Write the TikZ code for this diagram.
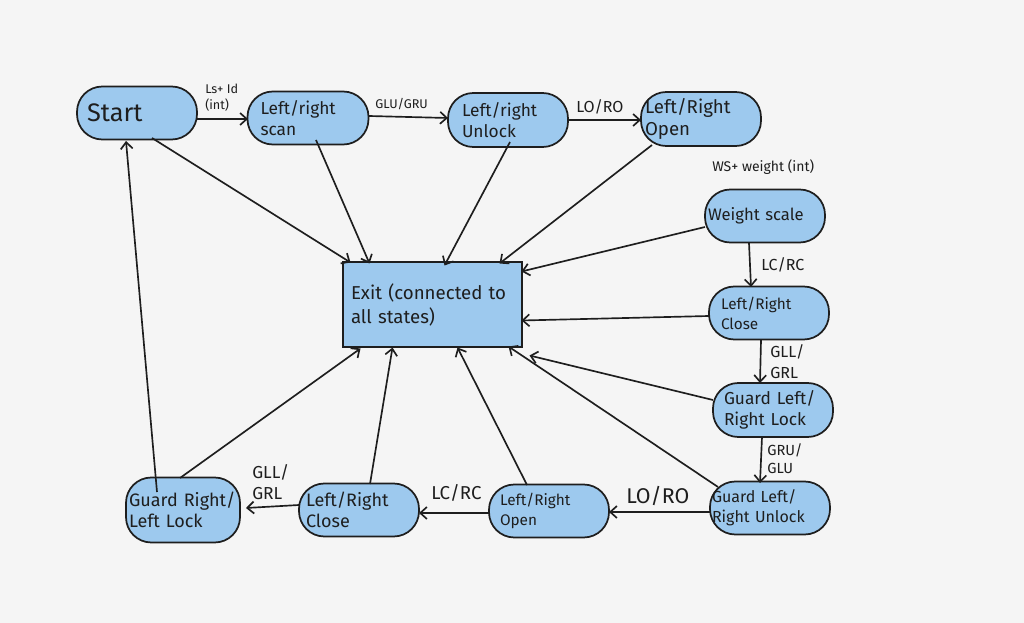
\documentclass[tikz,border=0pt]{standalone}
\usepackage{fontspec}
\setmainfont{Fira Sans}
\usetikzlibrary{arrows.meta}
\definecolor{bg}{RGB}{245,245,245}
\definecolor{nodefill}{RGB}{157,201,238}
\definecolor{ink}{RGB}{30,30,30}
\tikzset{
  state/.style={draw=ink, fill=nodefill, line width=1.3pt, rounded corners=19pt,
    align=left, inner sep=0pt, font=\fontsize{13}{16}\selectfont, text=ink},
  exitbox/.style={draw=ink, fill=nodefill, line width=1.3pt, align=left, inner sep=0pt,
    font=\fontsize{14}{18}\selectfont, text=ink},
  arr/.style={draw=ink, line width=1.25pt, -{Straight Barb[length=5pt,width=9pt]}},
  lbl/.style={text=ink, align=left, inner sep=0pt, anchor=north west}
}
\begin{document}
\begin{tikzpicture}[x=0.75pt,y=-0.75pt]
\fill[bg] (0,0) rectangle (1024,623);
\useasboundingbox (0,0) rectangle (1024,623);

% states
\node[state, minimum width=120*0.75pt, minimum height=53*0.75pt, text width=100*0.75pt,
  font=\fontsize{19}{22}\selectfont] (start) at (137,113) {Start};
\node[state, minimum width=121*0.75pt, minimum height=53*0.75pt, text width=95*0.75pt] (scan) at (308,118) {Left/right\\scan};
\node[state, minimum width=120*0.75pt, minimum height=54*0.75pt, text width=92*0.75pt] (unlock) at (508,120) {Left/right\\Unlock};
\node[state, minimum width=120*0.75pt, minimum height=54*0.75pt, text width=112*0.75pt] (openT) at (701,119) {\fontsize{14}{17}\selectfont Left/Right\\Open};
\node[state, minimum width=120*0.75pt, minimum height=53*0.75pt, text width=114*0.75pt, font=\fontsize{12.5}{15}\selectfont] (weight) at (765,216) {Weight scale};
\node[exitbox, minimum width=179*0.75pt, minimum height=85*0.75pt, text width=163*0.75pt] (exit) at (432.5,304.5) {Exit (connected to\\all states)};
\node[state, minimum width=120*0.75pt, minimum height=53*0.75pt, text width=96*0.75pt, font=\fontsize{11.5}{15}\selectfont] (closeR) at (769,313) {Left/Right\\Close};
\node[state, minimum width=120*0.75pt, minimum height=54*0.75pt, text width=98*0.75pt] (glock) at (773,410) {Guard Left/\\Right Lock};
\node[state, minimum width=120*0.75pt, minimum height=53*0.75pt, text width=116*0.75pt, font=\fontsize{12}{15}\selectfont] (gunlock) at (770,508) {Guard Left/\\Right Unlock};
\node[state, minimum width=120*0.75pt, minimum height=53*0.75pt, text width=98*0.75pt, font=\fontsize{11.5}{15}\selectfont] (openB) at (549,511) {Left/Right\\Open};
\node[state, minimum width=120*0.75pt, minimum height=53*0.75pt, text width=106*0.75pt, font=\fontsize{13.5}{16}\selectfont] (closeB) at (359,510) {Left/Right\\Close};
\node[state, minimum width=114*0.75pt, minimum height=65*0.75pt, text width=108*0.75pt, font=\fontsize{13.5}{16}\selectfont] (grl) at (183,510) {Guard Right/\\Left Lock};

% free label
\node[lbl, font=\fontsize{10.5}{12}\selectfont] (wslbl) at (712,159) {WS+ weight (int)};

% top chain
\draw[arr] ([shift={(60,6)}]start.center) -- ([shift={(-60,1)}]scan.center);
\node[lbl, font=\fontsize{9.5}{12}\selectfont] (l1) at (205,84) {Ls+ Id\\(int)};
\draw[arr] ([shift={(61,-2)}]scan.center) -- ([shift={(-60,-2)}]unlock.center);
\node[lbl, font=\fontsize{9.5}{11}\selectfont] (l2) at (375,98) {GLU/GRU};
\draw[arr] ([shift={(60,0)}]unlock.center) -- ([shift={(-60,1)}]openT.center);
\node[lbl, font=\fontsize{12}{13}\selectfont] (l3) at (576,99) {LO/RO};

% to exit
\draw[arr] ([shift={(15,25)}]start.center) -- ([shift={(-82,-42)}]exit.center);
\draw[arr] ([shift={(8,22)}]scan.center) -- ([shift={(-63,-41)}]exit.center);
\draw[arr] ([shift={(2,22)}]unlock.center) -- ([shift={(12,-39)}]exit.center);
\draw[arr] ([shift={(-49,26)}]openT.center) -- ([shift={(67,-41)}]exit.center);
\draw[arr] ([shift={(-60,11)}]weight.center) -- ([shift={(89,-33)}]exit.center);
\draw[arr] ([shift={(-60,3)}]closeR.center) -- ([shift={(89,16)}]exit.center);
\draw[arr] ([shift={(-60,-10)}]glock.center) -- ([shift={(97,51)}]exit.center);
\draw[arr] ([shift={(-52,-21)}]gunlock.center) -- ([shift={(76,42)}]exit.center);
\draw[arr] ([shift={(-22,-26)}]openB.center) -- ([shift={(25,43)}]exit.center);
\draw[arr] ([shift={(11,-26)}]closeB.center) -- ([shift={(-40,43)}]exit.center);
\draw[arr] ([shift={(-3,-32)}]grl.center) -- ([shift={(-72,44)}]exit.center);

% right column
\draw[arr] ([shift={(-16,27)}]weight.center) -- ([shift={(-18,-26)}]closeR.center);
\node[lbl, font=\fontsize{12}{14}\selectfont] (l4) at (761,257) {LC/RC};
\draw[arr] ([shift={(-8,27)}]closeR.center) -- ([shift={(-13,-27)}]glock.center);
\node[lbl, font=\fontsize{12}{16}\selectfont] (l5) at (770,344) {GLL/\\GRL};
\draw[arr] ([shift={(-11,27)}]glock.center) -- ([shift={(-10,-25)}]gunlock.center);
\node[lbl, font=\fontsize{11}{14}\selectfont] (l6) at (767,443) {GRU/\\GLU};

% bottom row
\draw[arr] ([shift={(-60,4)}]gunlock.center) -- ([shift={(60,1)}]openB.center);
\node[lbl, font=\fontsize{16}{18}\selectfont] (l7) at (626,486) {LO/RO};
\draw[arr] ([shift={(-60,2)}]openB.center) -- ([shift={(60,3)}]closeB.center);
\node[lbl, font=\fontsize{14}{16}\selectfont] (l8) at (431,484) {LC/RC};
\draw[arr] ([shift={(-60,-5)}]closeB.center) -- ([shift={(63,-2)}]grl.center);
\node[lbl, font=\fontsize{13}{16}\selectfont] (l9) at (252,464) {GLL/\\GRL};

% back to start
\draw[arr] ([shift={(-26,-18)}]grl.center) -- ([shift={(-11,28)}]start.center);
\end{tikzpicture}
\end{document}
